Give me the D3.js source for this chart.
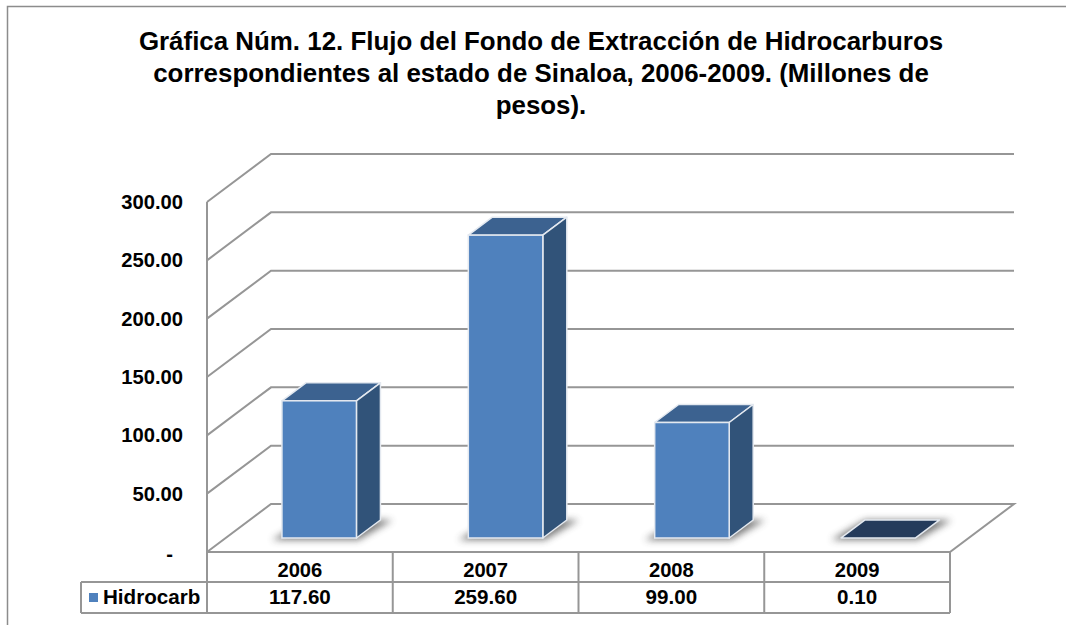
<!DOCTYPE html>
<html>
<head>
<meta charset="utf-8">
<script src="https://cdn.jsdelivr.net/npm/d3@7"></script>
<style>
  html, body { margin: 0; padding: 0; background: #fff; }
  svg { display: block; }
  text { font-family: "Liberation Sans", Arial, sans-serif; font-weight: bold; fill: #000; }
</style>
</head>
<body>
<div id="chart"></div>
<script>
const years = ['2006', '2007', '2008', '2009'];
const values = [117.6, 259.6, 99.0, 0.1];
const valueLabels = ['117.60', '259.60', '99.00', '0.10'];
const yTicks = [0, 50, 100, 150, 200, 250, 300];
const seriesName = 'Hidrocarb';
const titleLines = [
  'Gráfica Núm. 12. Flujo del Fondo de Extracción de Hidrocarburos',
  'correspondientes al estado de Sinaloa, 2006-2009. (Millones de',
  'pesos).'
];

const width = 1066, height = 625;
const grid = '#969696';

// plot box, front plane
const x0 = 207, x1 = 950;
const yBase = 552, yTop = 202;
// wall depth
const depthX = 64, depthY = -48;
// bars sit this far back on the floor, and are this deep
const barBackX = 19, barBackY = -14;
const barDepthX = 24, barDepthY = -18;

const x = d3.scaleBand().domain(years).range([x0, x1]).padding(0);
// bars run a little wider than the table columns
const xBar = d3.scaleBand().domain(years).range([x0, x1 + 2.5]).padding(0);
const y = d3.scaleLinear().domain([0, 300]).range([yBase, yTop]);
const barW = 74.5;

const svg = d3.select('#chart').append('svg')
  .attr('width', width)
  .attr('height', height);

const defs = svg.append('defs');
const blur = defs.append('filter').attr('id', 'soft')
  .attr('x', '-30%').attr('y', '-60%').attr('width', '160%').attr('height', '220%');
blur.append('feGaussianBlur').attr('stdDeviation', 3.5);

// outer frame, the right and bottom edges are cropped in the source
svg.append('path')
  .attr('d', `M7.5,${height}V6.5H${width}`)
  .attr('fill', 'none')
  .attr('stroke', '#8c8c8c')
  .attr('stroke-width', 1.5);

svg.append('g').selectAll('text')
  .data(titleLines)
  .join('text')
  .attr('x', 541)
  .attr('y', (d, i) => 49.5 + i * 32)
  .attr('text-anchor', 'middle')
  .style('font-size', '25.9px')
  .text(d => d);

// floor and gridlines
const line = d3.line();
const gridG = svg.append('g')
  .attr('fill', 'none')
  .attr('stroke', grid)
  .attr('stroke-width', 2);

yTicks.forEach(t => {
  const pts = [[x0, y(t)], [x0 + depthX, y(t) + depthY], [x1 + depthX, y(t) + depthY]];
  if (t === 0) pts.push([x1, y(t)], [x0, y(t)]);
  gridG.append('path').attr('d', line(pts));
});
gridG.append('path').attr('d', line([[x0, yBase], [x0, yTop]]));

// y labels
svg.append('g').selectAll('text')
  .data(yTicks)
  .join('text')
  .attr('x', d => d === 0 ? 173 : 183)
  .attr('y', d => y(d) + (d === 0 ? 9 : 7))
  .attr('text-anchor', 'end')
  .style('font-size', '20.2px')
  .text(d => d === 0 ? '-' : d.toFixed(2));

// bars
const bars = svg.append('g').selectAll('g')
  .data(years.map((yr, i) => ({ yr, v: values[i] })))
  .join('g');

const barLeft = d => xBar(d.yr) + xBar.bandwidth() / 2 - barW / 2 + barBackX;
const barBase = yBase + barBackY;
const barTop = d => barBase - (yBase - y(d.v));

// soft shadow on the floor
bars.append('path')
  .attr('d', d => {
    const l = barLeft(d), r = l + barW;
    return line([[l - 10, barBase + 2], [r + 2, barBase + 2],
      [r + barDepthX + 12, barBase + barDepthY], [l + barDepthX, barBase + barDepthY]]) + 'Z';
  })
  .attr('fill', '#444')
  .attr('opacity', 0.7)
  .attr('filter', 'url(#soft)');

// 2009 is flat, so its top is darker than on the other bars
bars.append('path')
  .attr('d', d => {
    const l = barLeft(d), r = l + barW, t = barTop(d);
    return line([[l, t], [r, t], [r + barDepthX, t + barDepthY], [l + barDepthX, t + barDepthY]]) + 'Z';
  })
  .attr('fill', d => d.v < 1 ? '#253b5b' : '#3c6290')
  .attr('stroke', '#e4e9f0')
  .attr('stroke-width', 1.5)
  .attr('stroke-linejoin', 'round');

bars.filter(d => d.v >= 1).append('path')
  .attr('d', d => {
    const r = barLeft(d) + barW, t = barTop(d);
    return line([[r, t], [r + barDepthX, t + barDepthY], [r + barDepthX, barBase + barDepthY], [r, barBase]]) + 'Z';
  })
  .attr('fill', '#315379')
  .attr('stroke', '#e4e9f0')
  .attr('stroke-width', 1.5)
  .attr('stroke-linejoin', 'round');

bars.filter(d => d.v >= 1).append('rect')
  .attr('x', barLeft)
  .attr('y', barTop)
  .attr('width', barW)
  .attr('height', d => barBase - barTop(d))
  .attr('fill', '#4f81bd')
  .attr('stroke', '#e4e9f0')
  .attr('stroke-width', 1.5);

// data table below the plot
const rowA = yBase, rowB = 582, rowC = 613, legendX = 81;
const tableG = svg.append('g')
  .attr('fill', 'none')
  .attr('stroke', grid)
  .attr('stroke-width', 2);
tableG.append('path').attr('d', line([[legendX, rowB], [x1, rowB]]));
tableG.append('path').attr('d', line([[legendX, rowC], [x1, rowC]]));
tableG.append('path').attr('d', line([[legendX, rowB], [legendX, rowC]]));
years.forEach(yr => {
  tableG.append('path').attr('d', line([[x(yr), rowA], [x(yr), rowC]]));
});
tableG.append('path').attr('d', line([[x1, rowA], [x1, rowC]]));

svg.append('g').selectAll('text')
  .data(years)
  .join('text')
  .attr('x', d => x(d) + x.bandwidth() / 2)
  .attr('y', 577)
  .attr('text-anchor', 'middle')
  .style('font-size', '20.2px')
  .text(d => d);

svg.append('g').selectAll('text')
  .data(valueLabels)
  .join('text')
  .attr('x', (d, i) => x(years[i]) + x.bandwidth() / 2)
  .attr('y', 604)
  .attr('text-anchor', 'middle')
  .style('font-size', '20.6px')
  .text(d => d);

svg.append('rect')
  .attr('x', 89).attr('y', 593)
  .attr('width', 9).attr('height', 9)
  .attr('fill', '#4f81bd');

svg.append('text')
  .attr('x', 103)
  .attr('y', 604)
  .style('font-size', '20.6px')
  .text(seriesName);
</script>
</body>
</html>
